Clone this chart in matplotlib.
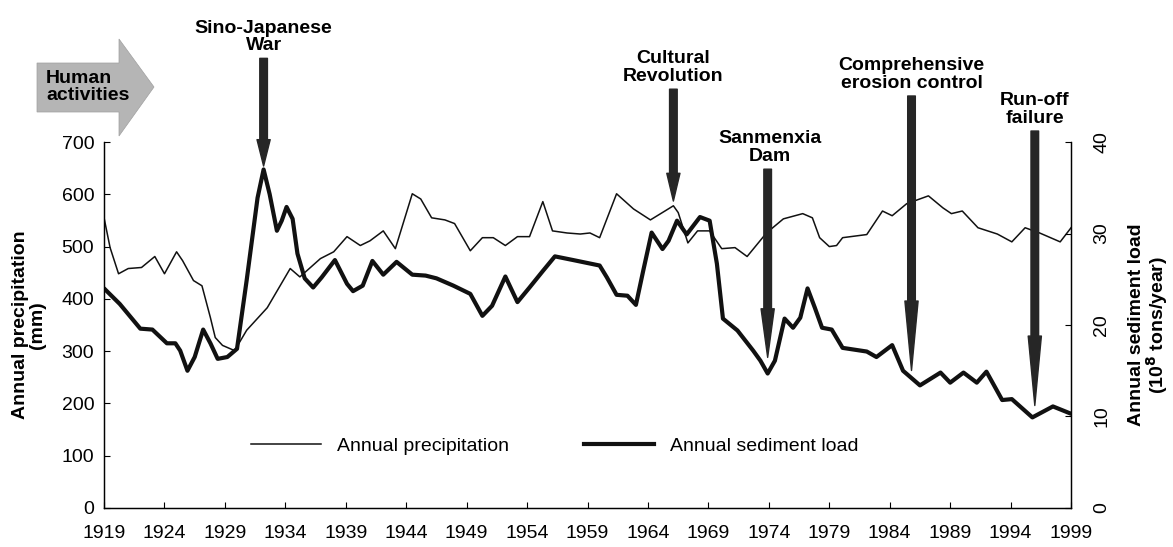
import matplotlib
matplotlib.use("Agg")
import matplotlib.pyplot as plt
from matplotlib.patches import FancyArrowPatch, Polygon, ArrowStyle

plt.rcParams["font.family"] = ["Liberation Sans", "DejaVu Sans"]

# annual precipitation (mm)
precip_years = [1919.0, 1919.5, 1920.2, 1921.0, 1922.1, 1923.2, 1924.0, 1925.0, 1925.5, 1926.4,
                1927.1, 1927.8, 1928.2, 1928.8, 1929.8, 1930.8, 1932.5, 1934.4, 1935.2, 1936.9,
                1938.0, 1939.1, 1940.2, 1941.0, 1942.1, 1943.1, 1944.5, 1945.2, 1946.1, 1947.2,
                1948.0, 1949.3, 1950.3, 1951.2, 1952.2, 1953.2, 1954.2, 1955.3, 1956.1, 1957.3,
                1958.4, 1959.2, 1960.0, 1961.4, 1962.8, 1964.2, 1965.4, 1966.1, 1966.5, 1967.3,
                1968.1, 1969.1, 1970.1, 1971.2, 1972.2, 1973.8, 1975.2, 1976.8, 1977.6, 1978.2,
                1979.0, 1979.6, 1980.1, 1982.1, 1983.4, 1984.2, 1985.4, 1987.2, 1988.4, 1989.1,
                1990.0, 1991.3, 1992.9, 1994.1, 1995.2, 1996.4, 1998.1, 1999.0]
precip_mm = [555, 498, 448, 458, 460, 481, 448, 490, 473, 435,
             425, 364, 326, 311, 301, 340, 383, 458, 442, 477,
             490, 519, 502, 511, 530, 496, 601, 591, 555, 551,
             544, 492, 517, 517, 502, 519, 519, 586, 530, 526,
             524, 526, 517, 601, 572, 551, 568, 578, 565, 507,
             530, 530, 496, 498, 481, 526, 553, 563, 555, 517,
             500, 502, 517, 523, 568, 559, 582, 597, 574, 563,
             568, 536, 524, 509, 536, 526, 509, 536]

# annual sediment load (10^8 tons/year)
sediment_years = [1919.0, 1920.3, 1922.0, 1923.0, 1924.2, 1924.9, 1925.3, 1925.9, 1926.5, 1927.2,
                  1927.8, 1928.4, 1929.2, 1930.0, 1930.8, 1931.7, 1932.2, 1932.7, 1933.3, 1933.7,
                  1934.1, 1934.6, 1935.0, 1935.6, 1936.3, 1937.0, 1938.1, 1939.1, 1939.6, 1940.4,
                  1941.2, 1942.1, 1943.2, 1944.5, 1945.6, 1946.5, 1947.9, 1949.3, 1950.3, 1951.1,
                  1952.2, 1953.2, 1954.2, 1955.3, 1956.3, 1957.8, 1960.0, 1960.6, 1961.4, 1962.3,
                  1963.0, 1963.6, 1964.3, 1965.2, 1965.7, 1966.4, 1967.2, 1968.3, 1969.1, 1969.7,
                  1970.2, 1971.4, 1972.7, 1973.3, 1973.9, 1974.5, 1975.3, 1976.0, 1976.6, 1977.2,
                  1977.8, 1978.4, 1979.2, 1980.1, 1982.1, 1982.9, 1984.2, 1985.1, 1986.5, 1988.2,
                  1989.0, 1990.1, 1991.2, 1992.0, 1993.3, 1994.1, 1995.8, 1997.5, 1999.0]
sediment_load = [24.0, 22.3, 19.6, 19.5, 18.0, 18.0, 17.2, 15.0, 16.5, 19.5,
                 18.0, 16.3, 16.5, 17.4, 24.9, 33.9, 37.0, 34.3, 30.3, 31.4,
                 32.9, 31.6, 27.8, 25.1, 24.1, 25.2, 27.1, 24.5, 23.7, 24.3,
                 27.0, 25.5, 26.9, 25.5, 25.4, 25.1, 24.3, 23.4, 21.0, 22.1,
                 25.3, 22.5, 24.1, 25.9, 27.5, 27.1, 26.5, 25.2, 23.3, 23.2,
                 22.2, 25.9, 30.1, 28.3, 29.2, 31.4, 29.9, 31.8, 31.4, 26.7,
                 20.7, 19.4, 17.2, 16.1, 14.7, 16.1, 20.7, 19.7, 20.8, 24.0,
                 21.9, 19.7, 19.5, 17.5, 17.1, 16.5, 17.8, 15.0, 13.4, 14.8,
                 13.7, 14.8, 13.7, 14.9, 11.8, 11.9, 9.9, 11.1, 10.3]

year_ticks = list(range(1919, 2000, 5))
precip_ticks = list(range(0, 701, 100))
sediment_ticks = [0, 10, 20, 30, 40]

event_labels = ["Sino-Japanese\nWar", "Cultural\nRevolution", "Sanmenxia\nDam",
                "Comprehensive\nerosion control", "Run-off\nfailure"]
event_years = [1932.2, 1966.1, 1973.9, 1985.8, 1996.0]

# arrow layout in precipitation units: (start, tip, head length pt, label x)
ARROWS = [(860, 654, 19, 1932.2), (801, 587, 20, 1966.1), (648, 288, 35, 1974.1),
          (788, 263, 50, 1985.8), (721, 196, 50, 1996.0)]

FS = 14
fig = plt.figure(figsize=(11.73, 5.47), dpi=100)
ax = fig.add_axes([0.0887, 0.0713, 0.8244, 0.6691])
ax2 = ax.twinx()

ax.plot(precip_years, precip_mm, color="#111111", lw=1.1, solid_joinstyle="round")
ax2.plot(sediment_years, sediment_load, color="#111111", lw=3.0, solid_joinstyle="round",
         solid_capstyle="round")

ax.set_xlim(1919, 1999)
ax.set_ylim(0, 700)
ax2.set_ylim(0, 40)
ax.set_xticks(year_ticks)
ax.set_yticks(precip_ticks)
ax2.set_yticks(sediment_ticks)
ax2.set_yticklabels([str(v) for v in sediment_ticks], rotation=90, va="center")

for a in (ax, ax2):
    a.spines["top"].set_visible(False)
    for s in a.spines.values():
        s.set_linewidth(0.9)
ax.tick_params(axis="both", direction="in", length=4, width=0.8, labelsize=FS)
ax.tick_params(axis="x", pad=12)
ax.tick_params(axis="y", pad=7)
ax2.tick_params(axis="y", direction="in", length=4, width=0.8, labelsize=FS, pad=16)

ax.set_ylabel("Annual precipitation\n(mm)", fontsize=FS, fontweight="bold", labelpad=11,
              linespacing=1.0)
ax2.set_ylabel("Annual sediment load\n(10$^\\mathbf{8}$ tons/year)", fontsize=FS,
               fontweight="bold", labelpad=13, linespacing=0.95)

h1, = ax.plot([], [], color="#111111", lw=1.1)
h2, = ax.plot([], [], color="#111111", lw=3.0)
ax2.legend([h1, h2], ["Annual precipitation", "Annual sediment load"], ncol=2, frameon=False,
           loc="center", bbox_to_anchor=(0.466, 0.169), fontsize=FS, handlelength=3.6,
           columnspacing=3.9, handletextpad=0.8)

for label, (start, tip, head, tx) in zip(event_labels, ARROWS):
    year = event_years[event_labels.index(label)]
    style = ArrowStyle.Simple(head_length=head, head_width=9.5, tail_width=5.5)
    arr = FancyArrowPatch((year, start), (year, tip), arrowstyle=style, mutation_scale=1,
                          transform=ax.transData, color="#262626", shrinkA=0, shrinkB=0,
                          clip_on=False, zorder=5)
    ax2.add_patch(arr)
    ax2.text(tx, start + 8, label, transform=ax.transData, ha="center", va="bottom",
             fontsize=FS, fontweight="bold", linespacing=1.05, clip_on=False)

# "Human activities" block arrow, drawn in figure pixels
W, H = 1173, 547
pts = [(37, 63), (119, 63), (119, 39), (154, 87), (119, 136), (119, 112), (37, 112)]
fig.add_artist(Polygon([(x / W, 1 - y / H) for x, y in pts], closed=True,
                       transform=fig.transFigure, facecolor="#b5b5b5", edgecolor="#a0a0a0",
                       lw=0.5))
fig.text(46 / W, 1 - 87 / H, "Human\nactivities", ha="left", va="center", fontsize=FS,
         fontweight="bold", linespacing=1.0)

fig.savefig("out.png", dpi=100)
